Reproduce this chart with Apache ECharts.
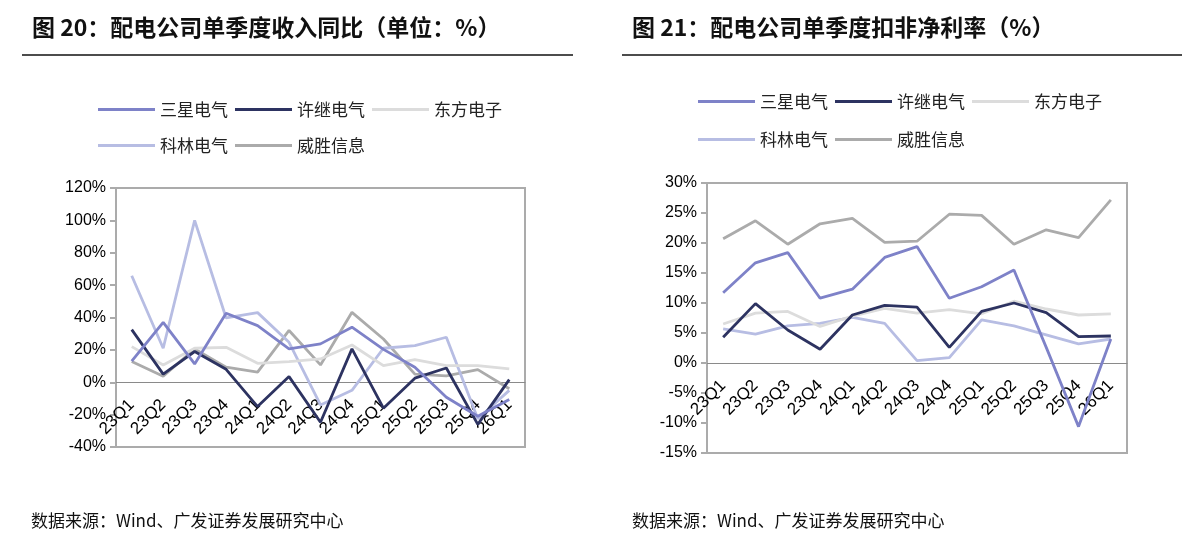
<!DOCTYPE html>
<html>
<head>
<meta charset="utf-8">
<script src="https://cdn.jsdelivr.net/npm/echarts@6/dist/echarts.min.js"></script>
<style>
html,body{margin:0;padding:0;background:#fff;}
#main{width:1184px;height:556px;}
</style>
</head>
<body>
<div id="main"></div>
<script>
// quarters on both charts
var quarters = ['23Q1','23Q2','23Q3','23Q4','24Q1','24Q2','24Q3','24Q4','25Q1','25Q2','25Q3','25Q4','26Q1']
var names = ['三星电气','许继电气','东方电子','科林电气','威胜信息']
var colors = ['#7E82C8','#2D3361','#DCDCDC','#B7BDE3','#ABABAB']

// 图20 收入同比 (%)
var revSanxing = [13, 37, 11.3, 42.6, 35, 20.6, 23.7, 34, 20.3, 9.3, -9.3, -21, -10.7]
var revXuji = [32.5, 5, 19, 8, -15, 3.5, -24.7, 20.6, -16, 2.5, 8.8, -26, 1.6]
var revDongfang = [22, 10.7, 21, 21.6, 11.7, 12.8, 14.4, 23, 10.3, 14, 10.3, 10.3, 8.2]
var revKelin = [65.8, 21, 100, 39.7, 43, 24.7, -14, -5, 21, 22.6, 27.8, -22.6, -5]
var revWeisheng = [12.8, 3.7, 20.6, 9.3, 6.2, 32, 10.7, 43.2, 26.7, 5, 4, 7.8, -4]

// 图21 扣非净利率 (%)
var npSanxing = [11.7, 16.7, 18.4, 10.8, 12.3, 17.6, 19.4, 10.8, 12.7, 15.5, 2.6, -10.6, 4.0]
var npXuji = [4.3, 9.9, 5.5, 2.3, 8.0, 9.6, 9.3, 2.6, 8.6, 10.0, 8.4, 4.4, 4.5]
var npDongfang = [6.5, 8.3, 8.6, 6.1, 7.8, 9.1, 8.3, 8.9, 8.2, 10.3, 9.0, 8.0, 8.2]
var npKelin = [5.7, 4.8, 6.2, 6.6, 7.6, 6.6, 0.4, 0.9, 7.2, 6.2, 4.7, 3.2, 4.0]
var npWeisheng = [20.7, 23.7, 19.8, 23.2, 24.1, 20.1, 20.3, 24.8, 24.6, 19.8, 22.2, 20.9, 27.2]

var revData = [revSanxing, revXuji, revDongfang, revKelin, revWeisheng]
var npData = [npSanxing, npXuji, npDongfang, npKelin, npWeisheng]

var numFont = 'Liberation Sans, Arial, Noto Sans CJK SC'
var cjkFont = 'Noto Sans CJK SC, sans-serif'

var chart = echarts.init(document.getElementById('main'))

function mkLegend(data, left, top){
	return {
		data: data,
		left: left,
		top: top,
		padding: 0,
		icon: 'rect',
		itemWidth: 57,
		itemHeight: 3,
		itemGap: 7,
		textStyle: {fontSize: 17, color: '#222', fontFamily: cjkFont}
	}
}

// grid boxes, used to put the category labels on the 0% line
var g1 = {left: 116, top: 188, width: 409, height: 259}
var g2 = {left: 707, top: 183, width: 420, height: 270}

function mkX(idx, off){
	return {
		type: 'category',
		gridIndex: idx,
		data: quarters,
		boundaryGap: true,
		offset: off,
		axisLine: {onZero: false, lineStyle: {color: '#8a8a8a', width: 1}},
		axisTick: {show: false},
		axisLabel: {rotate: 45, margin: 20, fontSize: 17, color: '#000', fontFamily: numFont, interval: 0},
		splitLine: {show: false}
	}
}

function mkY(idx, min, max, step){
	return {
		type: 'value',
		gridIndex: idx,
		min: min,
		max: max,
		interval: step,
		axisLine: {show: true, lineStyle: {color: '#ababab', width: 2}},
		axisTick: {show: true, inside: false, length: 6, lineStyle: {color: '#ababab', width: 2}},
		axisLabel: {formatter: '{value}%', fontSize: 16, color: '#000', fontFamily: numFont, margin: 10},
		splitLine: {show: false}
	}
}

var series = []
for(var i=0;i<names.length;i++){
	series.push({
		name: names[i], type: 'line', xAxisIndex: 0, yAxisIndex: 0,
		data: revData[i], symbol: 'none', color: colors[i],
		lineStyle: {width: 2.8, color: colors[i]}, z: 10 - i
	})
}
for(var i=0;i<names.length;i++){
	series.push({
		name: names[i], type: 'line', xAxisIndex: 1, yAxisIndex: 1,
		data: npData[i], symbol: 'none', color: colors[i],
		lineStyle: {width: 2.8, color: colors[i]}, z: 10 - i
	})
}

// distance from bottom of plot up to the 0 value
var off1 = -(g1.height * 40 / 160)
var off2 = -(g2.height * 15 / 45)

var option = {
	animation: false,
	backgroundColor: '#fff',
	title: [
		{text: '图 20：配电公司单季度收入同比（单位：%）', left: 27, top: 11,
			textStyle: {fontSize: 23, fontWeight: 'bold', color: '#111', fontFamily: cjkFont}},
		{text: '图 21：配电公司单季度扣非净利率（%）', left: 627, top: 11,
			textStyle: {fontSize: 23, fontWeight: 'bold', color: '#111', fontFamily: cjkFont}}
	],
	legend: [
		mkLegend(['三星电气','许继电气','东方电子'], 98, 101),
		mkLegend(['科林电气','威胜信息'], 98, 137),
		mkLegend(['三星电气','许继电气','东方电子'], 698, 93),
		mkLegend(['科林电气','威胜信息'], 698, 131)
	],
	grid: [
		{left: g1.left, top: g1.top, width: g1.width, height: g1.height, show: true, borderColor: '#ababab', borderWidth: 2},
		{left: g2.left, top: g2.top, width: g2.width, height: g2.height, show: true, borderColor: '#ababab', borderWidth: 2}
	],
	xAxis: [mkX(0, off1), mkX(1, off2)],
	yAxis: [mkY(0, -40, 120, 20), mkY(1, -15, 30, 5)],
	series: series,
	graphic: [
		{type: 'line', shape: {x1: 22, y1: 55, x2: 573, y2: 55}, style: {stroke: '#111', lineWidth: 1.5}},
		{type: 'line', shape: {x1: 622, y1: 55, x2: 1182, y2: 55}, style: {stroke: '#111', lineWidth: 1.5}},
		{type: 'text', left: 31, top: 512,
			style: {text: '数据来源：Wind、广发证券发展研究中心', fontSize: 17, fill: '#111', fontFamily: cjkFont}},
		{type: 'text', left: 632, top: 512,
			style: {text: '数据来源：Wind、广发证券发展研究中心', fontSize: 17, fill: '#111', fontFamily: cjkFont}}
	]
}
chart.setOption(option)
</script>
</body>
</html>
